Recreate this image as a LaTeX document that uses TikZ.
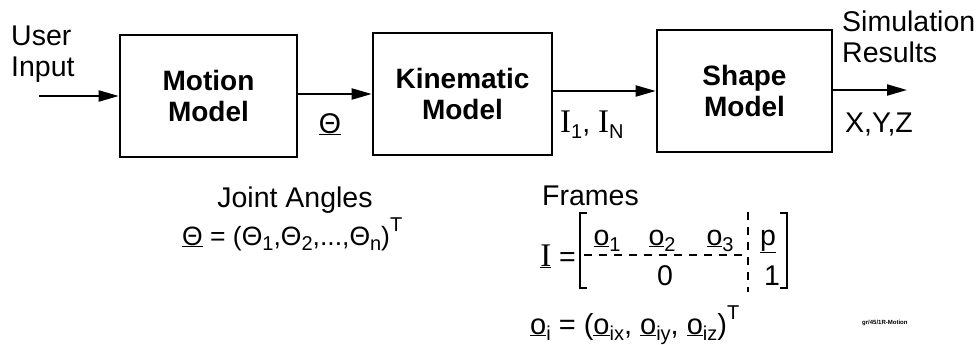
\documentclass[tikz,border=0pt]{standalone}
\usepackage{fontspec}
\setmainfont{Liberation Sans}
\newfontfamily\serifI{Liberation Serif}
\usetikzlibrary{arrows.meta}
\newcommand{\mysub}[1]{\raisebox{-0.22em}{\fontsize{20}{20}\selectfont #1}}
\newcommand{\mysup}[1]{\raisebox{0.5em}{\fontsize{20}{20}\selectfont #1}}
\newcommand{\uo}{\underline{o}}
\newcommand{\myI}{{\fontsize{33}{33}\selectfont\serifI I}}
\begin{document}
\begin{tikzpicture}[x=1pt,y=-1pt,
  every node/.style={font=\fontsize{28.5}{31}\selectfont, inner sep=0pt},
  blockbox/.style={draw, line width=2.6pt, minimum width=177pt, minimum height=122pt,
     align=center, font=\fontsize{28}{31}\selectfont\bfseries},
  arr/.style={line width=2pt, -{Triangle[length=20pt,width=11pt]}},
  bracket/.style={line width=2pt},
  sep/.style={line width=1.6pt, dash pattern=on 8pt off 7pt}]
\useasboundingbox (0,0) rectangle (979,345);
% blocks
\node[blockbox] (motion) at (208.5,96) {Motion\\Model};
\node[blockbox, minimum width=179pt] (kin) at (462.5,94) {Kinematic\\Model};
\node[blockbox, minimum width=175pt] (shape) at (744.5,91) {Shape\\Model};
% connectors
\coordinate (in) at (39,96);
\coordinate (out) at (907,90);
\draw[arr] (in) -- (in -| motion.west);
\draw[arr] (kin.west -| motion.east) -- (kin.west);
\draw[arr] (shape.west -| kin.east) -- (shape.west);
\draw[arr] (shape.east |- out) -- (out);
% top labels
\node[align=left, anchor=north west] (user) at (11,26) {User\\Input};
\node[align=left, anchor=north west] (sim) at (842,11) {Simulation\\Results};
\node[anchor=base] (theta) at (330,133) {\underline{Θ}};
\node[anchor=base west] (frames1) at (560,132) {\myI\mysub{1}, \myI\mysub{N}};
\node[anchor=base west] (xyz) at (845,132) {X,Y,Z};
% joint angles
\node[anchor=base] (ja) at (295,207) {Joint Angles};
\node[anchor=base west, font=\fontsize{26.5}{30}\selectfont] (thetaeq) at (182,245) {\underline{Θ} = (Θ\mysub{1},Θ\mysub{2},...,Θ\mysub{n})\mysup{T}};
% frames
\node[anchor=base west] (frames) at (542,205) {Frames};
\node[anchor=base east] (Ieq) at (576,266) {\underline{\myI} =};
\draw[bracket] (587,213) -- (580,213) -- (580,288) -- (587,288);
\draw[bracket] (780,213) -- (787,213) -- (787,288) -- (780,288);
\draw[sep] (584,255) -- (746,255);
\draw[sep] (748,212) -- (748,292);
\node[anchor=base] (o1) at (607,245) {\uo\mysub{1}};
\node[anchor=base] (o2) at (662,245) {\uo\mysub{2}};
\node[anchor=base] (o3) at (720,245) {\uo\mysub{3}};
\node[anchor=base] (pv) at (768,245) {\underline{p}};
\node[anchor=base] (zero) at (665,285) {0};
\node[anchor=base] (one) at (772,285) {1};
\node[anchor=base west, font=\fontsize{29}{31}\selectfont] (oeq) at (530,334) {\uo\mysub{i} = (\uo\mysub{ix}, \uo\mysub{iy}, \uo\mysub{iz})\mysup{T}};
\node[anchor=base west, font=\fontsize{6}{6}\selectfont\bfseries] (tag) at (862,324) {gr/45/1R-Motion};
\end{tikzpicture}
\end{document}
